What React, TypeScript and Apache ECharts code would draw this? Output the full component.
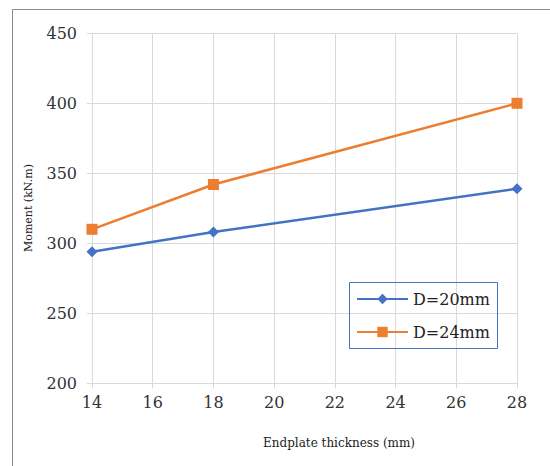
import React, { useEffect, useRef } from "react";
import * as echarts from "echarts";

const thickness = [14, 18, 28];
const d20 = [294, 308, 339];
const d24 = [310, 342, 400];
const seriesNames = ["D=20mm", "D=24mm"];
const xTitle = "Endplate thickness (mm)";
const yTitle = "Moment (kN.m)";

const FONT = "DejaVu Serif";

export default function App() {
  const ref = useRef<HTMLDivElement>(null);
  useEffect(() => {
    if (!ref.current) return;
    const chart = echarts.init(ref.current, null, { renderer: "svg" });
    const toPairs = (ys: number[]) => thickness.map((x, i) => [x, ys[i]]);
    chart.setOption({
      animation: false,
      backgroundColor: "#ffffff",
      grid: { left: 92, right: 33, top: 33.3, bottom: 82.7, containLabel: false },
      xAxis: {
        type: "value",
        min: 14,
        max: 28,
        interval: 2,
        axisLine: { show: true, lineStyle: { color: "#d9d9d9", width: 1 } },
        axisTick: { show: true, length: 5, lineStyle: { color: "#d9d9d9" } },
        axisLabel: { margin: 11, fontSize: 16, fontFamily: FONT, color: "#333" },
        splitLine: { show: true, lineStyle: { color: "#d9d9d9", width: 1 } },
      },
      yAxis: {
        type: "value",
        min: 200,
        max: 450,
        interval: 50,
        axisLine: { show: true, lineStyle: { color: "#d9d9d9", width: 1 } },
        axisTick: { show: true, length: 5, lineStyle: { color: "#d9d9d9" } },
        axisLabel: { margin: 15, fontSize: 16, fontFamily: FONT, color: "#333" },
        splitLine: { show: true, lineStyle: { color: "#d9d9d9", width: 1 } },
      },
      legend: {
        orient: "vertical",
        left: 356,
        top: 289,
        padding: 0,
        itemGap: 13,
        itemWidth: 51,
        itemHeight: 13,
        textStyle: { fontSize: 16, fontFamily: FONT, color: "#222", lineHeight: 20 },
        data: seriesNames,
      },
      series: [
        {
          name: seriesNames[0],
          type: "line",
          data: toPairs(d20),
          symbol: "diamond",
          symbolSize: 11,
          lineStyle: { color: "#4472C4", width: 2.5 },
          itemStyle: { color: "#4472C4" },
        },
        {
          name: seriesNames[1],
          type: "line",
          data: toPairs(d24),
          symbol: "rect",
          symbolSize: 11,
          lineStyle: { color: "#ED7D31", width: 2.5 },
          itemStyle: { color: "#ED7D31" },
        },
      ],
      graphic: [
        {
          type: "line",
          shape: { x1: 12.5, y1: 9.5, x2: 12.5, y2: 466 },
          style: { stroke: "#8c8c8c", lineWidth: 1 },
        },
        {
          type: "line",
          shape: { x1: 12.5, y1: 9.5, x2: 550, y2: 9.5 },
          style: { stroke: "#8c8c8c", lineWidth: 1 },
        },
        {
          type: "rect",
          shape: { x: 349.5, y: 282.5, width: 148, height: 66 },
          style: { fill: "rgba(255,255,255,0)", stroke: "#4472C4", lineWidth: 1 },
          z: 10,
        },
        {
          type: "text",
          x: 339,
          y: 443,
          style: { text: xTitle, font: `12px "${FONT}"`, fill: "#222", align: "center", verticalAlign: "middle" },
        },
        {
          type: "text",
          x: 28.5,
          y: 208,
          rotation: Math.PI / 2,
          style: { text: yTitle, font: `11px "${FONT}"`, fill: "#222", align: "center", verticalAlign: "middle" },
        },
      ],
    });
    return () => chart.dispose();
  }, []);
  return (
    <div
      ref={ref}
      style={{ position: "fixed", left: 0, top: 0, width: 550, height: 466 }}
    />
  );
}
